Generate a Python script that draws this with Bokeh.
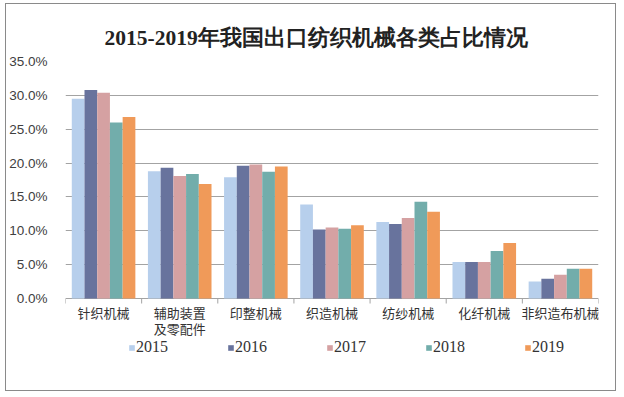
from bokeh.plotting import figure
from bokeh.models import (Range1d, FixedTicker, NumeralTickFormatter, Legend, LegendItem,
                          ColumnDataSource)
from bokeh.core.properties import value
from bokeh.embed import file_html
from bokeh.resources import INLINE

title_text = "2015-2019年我国出口纺织机械各类占比情况"
categories = ["针织机械", "辅助装置\n及零配件", "印整机械", "织造机械", "纺纱机械", "化纤机械", "非织造布机械"]
years = ["2015", "2016", "2017", "2018", "2019"]
v2015 = [0.295, 0.188, 0.179, 0.139, 0.113, 0.054, 0.025]
v2016 = [0.308, 0.193, 0.196, 0.102, 0.110, 0.054, 0.029]
v2017 = [0.304, 0.181, 0.198, 0.105, 0.119, 0.054, 0.035]
v2018 = [0.260, 0.184, 0.187, 0.103, 0.143, 0.070, 0.044]
v2019 = [0.268, 0.169, 0.195, 0.108, 0.128, 0.082, 0.044]
y_ticks = [0, 0.05, 0.10, 0.15, 0.20, 0.25, 0.30, 0.35]

colors = ["#b7cfec", "#68739d", "#d5a1a2", "#72adab", "#f09a59"]
series = [v2015, v2016, v2017, v2018, v2019]

n = len(categories)
centers = [i + 0.5 for i in range(n)]
bounds = list(range(n + 1))

# layout (pixels)
W, H = 611, 388
top_b, bot_b, left_b, right_b = 57, 31, 56, 19
frame_h = H - top_b - bot_b
axis_px = 237                     # pixels from 0% to 35%
per_px = y_ticks[-1] / axis_px    # data units per pixel
y_start = y_ticks[-1] - frame_h * per_px

p = figure(x_range=Range1d(0, n), y_range=Range1d(y_start, y_ticks[-1]),
           width=W, height=H, output_backend="svg", toolbar_location=None,
           x_axis_location=None, min_border_left=left_b, min_border_right=right_b,
           min_border_top=top_b, min_border_bottom=bot_b,
           styles={"margin-left": "5px", "margin-top": "3px", "border": "1px solid #8a8a8a"})
p.outline_line_color = None
p.background_fill_color = "white"
p.border_fill_color = "white"

p.title.text = title_text
p.title.align = "left"
p.title.offset = 39
p.title.standoff = 24
p.title.text_font = "Liberation Serif"
p.title.text_font_style = "bold"
p.title.text_font_size = "21.5px"
p.title.text_color = "#222222"

bw = 0.167
offs = [-2 * bw, -bw, 0, bw, 2 * bw]
renderers = []
for y, c, o, s in zip(years, colors, offs, series):
    src = ColumnDataSource(data=dict(x=[cx + o for cx in centers], top=s, cat=categories))
    r = p.vbar(x="x", top="top", width=bw, source=src, fill_color=c, line_color=None)
    renderers.append(r)

# y axis
p.yaxis.ticker = FixedTicker(ticks=y_ticks)
p.yaxis.formatter = NumeralTickFormatter(format="0.0%")
p.yaxis.axis_line_color = None
p.yaxis.major_tick_line_color = None
p.yaxis.minor_tick_line_color = None
p.yaxis.major_label_standoff = 12
p.yaxis.major_label_text_font = "Liberation Sans"
p.yaxis.major_label_text_font_size = "13.5px"
p.yaxis.major_label_text_color = "#404040"
p.ygrid.ticker = FixedTicker(ticks=y_ticks)
p.ygrid.grid_line_color = "#a3a3a3"
p.xgrid.grid_line_color = None

# category boundary ticks below the 0% line
tick_len = 5 * per_px
p.segment(x0=bounds, y0=[0] * len(bounds), x1=bounds, y1=[-tick_len] * len(bounds),
          line_color="#a3a3a3", line_width=1)

# category labels
lab_src = ColumnDataSource(data=dict(x=centers, y=[0] * n, text=categories))
p.text(x="x", y="y", text="text", source=lab_src, text_align="center", text_baseline="top",
       y_offset=4, text_font=value("Noto Sans CJK SC"), text_font_size="13px",
       text_line_height=0.85, text_color="#333333")

legend = Legend(items=[LegendItem(label=y, renderers=[r]) for y, r in zip(years, renderers)],
                orientation="horizontal", location=(63, 5), glyph_width=7, glyph_height=7,
                label_standoff=1, label_width=91, spacing=0, padding=0, margin=0,
                border_line_color=None, background_fill_alpha=0,
                label_text_font="Liberation Serif", label_text_font_size="16px",
                label_text_color="#333333")
p.add_layout(legend, "center")

open("out.html", "w").write(file_html(p, INLINE))
